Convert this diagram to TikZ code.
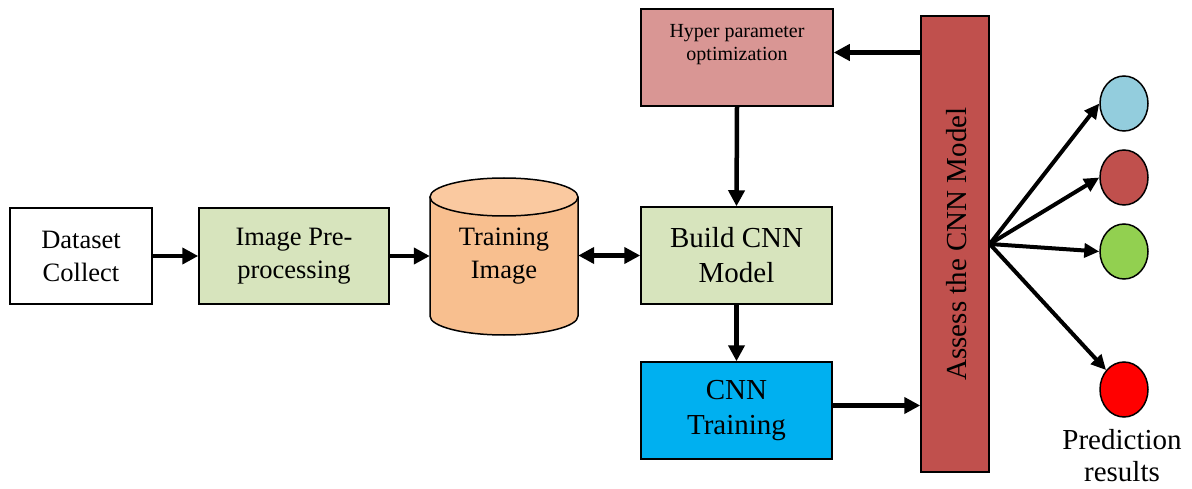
\documentclass[tikz,border=0pt]{standalone}
\usepackage{fontspec}
\setmainfont{Liberation Serif}
\usetikzlibrary{arrows.meta,calc,shapes.geometric}
\definecolor{greenbox}{HTML}{D7E4BD}
\definecolor{hyperfill}{HTML}{D99694}
\definecolor{cylbody}{HTML}{F8BF8F}
\definecolor{cyltop}{HTML}{FAC9A0}
\definecolor{trainfill}{HTML}{00B0F0}
\definecolor{assessfill}{HTML}{C0504D}
\definecolor{cblue}{HTML}{93CDDD}
\definecolor{cred}{HTML}{C0504D}
\definecolor{cgreen}{HTML}{92D050}
\definecolor{cbright}{HTML}{FF0000}
\begin{document}
\begin{tikzpicture}[x=1pt,y=-1pt,
  box/.style={draw=black, line width=1.5pt, rectangle, inner sep=0pt, align=center},
  fbig/.style={font=\fontsize{26.5pt}{33pt}\selectfont},
  fhuge/.style={font=\fontsize{29pt}{35pt}\selectfont},
  fsmall/.style={font=\fontsize{20pt}{23pt}\selectfont},
  arr/.style={line width=4.5pt, -{Triangle[length=16pt,width=16pt]}},
  darr/.style={line width=4.5pt, {Triangle[length=16pt,width=16pt]}-{Triangle[length=16pt,width=16pt]}},
  farr/.style={line width=4pt, -{Triangle[length=15pt,width=14pt]}},
  dot/.style={draw=black, line width=1.5pt, ellipse, inner sep=0pt, minimum width=48pt, minimum height=55pt}
]
\useasboundingbox (0,0) rectangle (1192,489);

% boxes
\node[box, fbig, minimum width=142pt, minimum height=96pt] (data) at (81,256) {Dataset\\Collect};
\node[box, fbig, fill=greenbox, minimum width=190pt, minimum height=96pt] (prep) at (294,256) {Image Pre-\\processing};
\node[box, fhuge, fill=greenbox, minimum width=191pt, minimum height=97pt] (build) at (736.5,255.5) {Build CNN\\Model};
\node[box, fill=hyperfill, minimum width=192pt, minimum height=97pt] (hyp) at (737,57.5) {};
\node[fsmall, align=center] (hyptxt) at (737,45) {Hyper parameter\\optimization};
\node[box, fhuge, fill=trainfill, minimum width=191pt, minimum height=97pt] (train) at (736.5,410.5) {CNN\\Training};
\node[box, fill=assessfill, minimum width=68pt, minimum height=456pt] (assess) at (955,244) {};
\node[fhuge, rotate=90] (assesstxt) at (957,244) {Assess the CNN Model};

% cylinder
\fill[cylbody] (430,197) -- (430,316) arc[start angle=180,end angle=360,x radius=74pt,y radius=19pt]
  -- (578,197) arc[start angle=0,end angle=180,x radius=74pt,y radius=19pt] -- cycle;
\draw[line width=1.5pt] (430,197) -- (430,316) arc[start angle=180,end angle=360,x radius=74pt,y radius=19pt] -- (578,197);
\draw[line width=1.5pt, fill=cyltop] (504,197) ellipse[x radius=74pt,y radius=19pt];
\node[fbig, align=center, minimum width=148pt, minimum height=157pt, inner sep=0pt] (cyl) at (504,256.5) {Training\\Image};

% circles
\node[dot, fill=cblue] (c1) at (1124,103.5) {};
\node[dot, fill=cred] (c2) at (1124,177.5) {};
\node[dot, fill=cgreen] (c3) at (1124,251.5) {};
\node[dot, fill=cbright] (c4) at (1124,389.5) {};
\node[fhuge, align=center, inner sep=0pt, font=\fontsize{29pt}{32pt}\selectfont] (pred) at (1122,456) {Prediction\\results};

% connectors
\draw[arr] (data.east) -- (prep.west);
\draw[arr] (prep.east) -- (prep.east -| cyl.west);
\draw[darr] (cyl.east |- build.west) -- (build.west);
\draw[arr] (hyp.south) -- (build.north);
\draw[arr] (build.south) -- (train.north);
\draw[arr] ($(assess.west |- hyp.east)+(0,-5)$) -- ($(hyp.east)+(0,-5)$);
\draw[arr] ($(train.east)+(0,-5)$) -- ($(train.east -| assess.west)+(0,-5)$);
\draw[farr] (assess.east) -- (c1.west);
\draw[farr] (assess.east) -- (c2.west);
\draw[farr] (assess.east) -- (c3.west);
\draw[farr] (assess.east) -- (c4);
\end{tikzpicture}
\end{document}
